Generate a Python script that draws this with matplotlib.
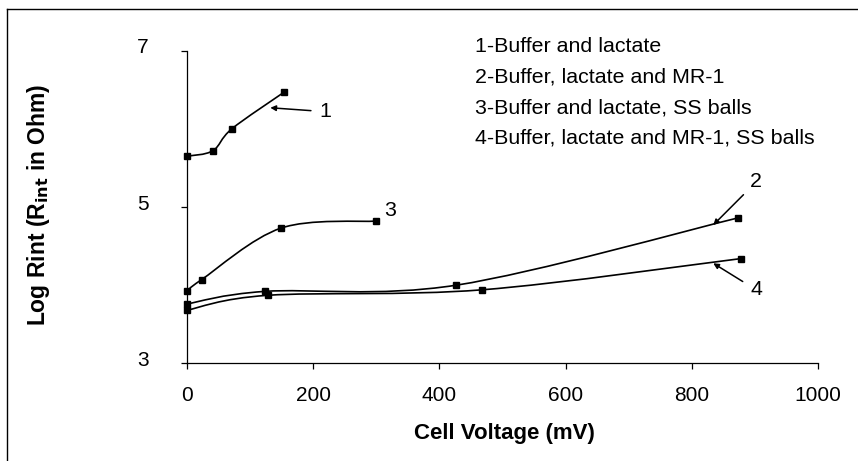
import numpy as np
import matplotlib
matplotlib.use("Agg")
import matplotlib.pyplot as plt
from matplotlib.path import Path
from matplotlib.patches import PathPatch
from matplotlib.lines import Line2D
import matplotlib.transforms as mtransforms

plt.rcParams['font.family'] = ['Liberation Sans', 'DejaVu Sans']

# series (cell voltage in mV, log Rint)
v1 = [0, 41, 71, 154]
r1 = [5.65, 5.72, 6.00, 6.47]
v2 = [0, 123, 427, 873]
r2 = [3.76, 3.92, 4.00, 4.86]
v3 = [0, 23, 149, 300]
r3 = [3.92, 4.07, 4.73, 4.82]
v4 = [0, 128, 467, 878]
r4 = [3.68, 3.87, 3.94, 4.34]

legend_lines = ["1-Buffer and lactate",
                "2-Buffer, lactate and MR-1",
                "3-Buffer and lactate, SS balls",
                "4-Buffer, lactate and MR-1, SS balls"]
xticks = [0, 200, 400, 600, 800, 1000]
yticks = [3, 5, 7]


def smooth_path(x, y):
    # excel-like smoothed line: cubic bezier through the points
    p = np.column_stack([x, y]).astype(float)
    n = len(p)
    verts = [p[0]]
    codes = [Path.MOVETO]
    for i in range(n - 1):
        p0 = p[i - 1] if i > 0 else p[i]
        p1 = p[i]
        p2 = p[i + 1]
        p3 = p[i + 2] if i + 2 < n else p[i + 1]
        c1 = p1 + (p2 - p0) / 6.0
        c2 = p2 - (p3 - p1) / 6.0
        verts += [c1, c2, p2]
        codes += [Path.CURVE4] * 3
    return Path(verts, codes)


fig = plt.figure(figsize=(8.58, 4.61), dpi=100)
ax = fig.add_axes([187/858, 1 - 363.3/461, 631/858, 312.6/461])

for x, y in [(v1, r1), (v2, r2), (v3, r3), (v4, r4)]:
    ax.add_patch(PathPatch(smooth_path(x, y), fill=False, lw=1.2, edgecolor='black'))
    ax.plot(x, y, 's', color='black', markersize=5, clip_on=False)

ax.set_xlim(0, 1000)
ax.set_ylim(3, 7)
ax.set_xticks(xticks)
ax.set_yticks(yticks)
ax.spines['top'].set_visible(False)
ax.spines['right'].set_visible(False)
for s in ['left', 'bottom']:
    ax.spines[s].set_linewidth(0.9)
ax.tick_params(axis='both', direction='out', length=4.5, width=0.9, labelsize=15)
ax.tick_params(axis='y', pad=23)
ax.tick_params(axis='x', pad=12)
off = mtransforms.ScaledTranslation(0, 5/100, fig.dpi_scale_trans)
for lab in ax.get_yticklabels():
    lab.set_transform(lab.get_transform() + off)

fig.text(504/858, 1 - 433/461, "Cell Voltage (mV)", fontsize=16, fontweight='bold',
         ha='center', va='center')
fig.text(38.5/858, 1 - 205/461, r"Log Rint (R$_{\mathbf{int}}$ in Ohm)", fontsize=16.5,
         fontweight='bold', rotation=90, ha='center', va='center')

for i, t in enumerate(legend_lines):
    ax.text(0.456, (363.3 - (47 + 30.3*i))/312.6, t, transform=ax.transAxes,
            fontsize=15.4, ha='left', va='center')

arrow = dict(arrowstyle='-|>', color='black', lw=1.1, mutation_scale=8, shrinkA=4, shrinkB=0)
ax.annotate("1", xy=(132, 6.27), xytext=(219, 6.22), fontsize=15.4, ha='center', va='center',
            arrowprops=arrow)
ax.annotate("2", xy=(834, 4.77), xytext=(902, 5.32), fontsize=15.4, ha='center', va='center',
            arrowprops=arrow)
ax.annotate("4", xy=(834, 4.28), xytext=(902, 3.94), fontsize=15.4, ha='center', va='center',
            arrowprops=arrow)
ax.text(322, 4.96, "3", fontsize=15.4, ha='center', va='center')

# outer frame (top and left edges only)
fig.add_artist(Line2D([7/858, 1], [1 - 9/461, 1 - 9/461], color='black', lw=1.0))
fig.add_artist(Line2D([7/858, 7/858], [0, 1 - 9/461], color='black', lw=1.0))

fig.savefig("out.png", dpi=100)
